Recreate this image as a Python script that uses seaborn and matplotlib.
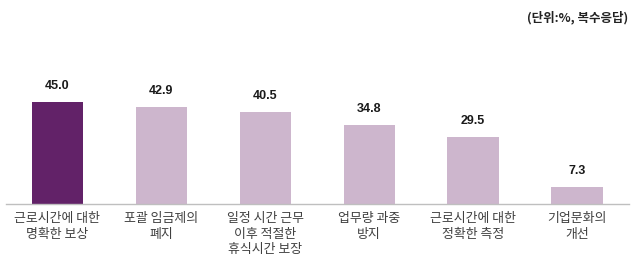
import matplotlib
matplotlib.use("Agg")
import matplotlib.pyplot as plt
import seaborn as sns
import pandas as pd

categories = ["근로시간에 대한\n명확한 보상", "포괄 임금제의\n폐지", "일정 시간 근무\n이후 적절한\n휴식시간 보장",
              "업무량 과중\n방지", "근로시간에 대한\n정확한 측정", "기업문화의\n개선"]
values = [45.0, 42.9, 40.5, 34.8, 29.5, 7.3]
value_labels = ["45.0", "42.9", "40.5", "34.8", "29.5", "7.3"]
subtitle = "(단위:%, 복수응답)"

dark = "#622268"
light = "#CDB6CD"
colors = [dark] + [light] * 5

sns.set_theme(style="white")
plt.rcParams['font.family'] = ['Noto Sans CJK KR', 'DejaVu Sans']

df = pd.DataFrame({"cat": categories, "val": values})

fig = plt.figure(figsize=(6.4, 2.69), dpi=100)
ax = fig.add_axes([5.5/640, 1-203.7/269, (629-5.5)/640, 113/269])
sns.barplot(data=df, x="cat", y="val", hue="cat", palette=colors, legend=False,
            width=0.494, ax=ax, saturation=1, linewidth=0)
ax.set_xlim(-0.5, 5.5)
ax.set_ylim(0, 50)
ax.set_xlabel("")
ax.set_ylabel("")
ax.set_yticks([])
for s in ["top", "right", "left"]:
    ax.spines[s].set_visible(False)
ax.spines["bottom"].set_color("#BFBFBF")
ax.spines["bottom"].set_linewidth(1.0)
ax.tick_params(axis="x", length=0, pad=6)
for lbl in ax.get_xticklabels():
    lbl.set_fontsize(9.3)
    lbl.set_color("#404040")
    lbl.set_linespacing(1.25)

for i, (v, t) in enumerate(zip(values, value_labels)):
    ax.annotate(t, xy=(i, v), xytext=(0, 7), textcoords="offset points",
                ha="center", va="bottom", fontsize=9, fontweight="bold",
                color="#1A1A1A", family=["Liberation Sans", "DejaVu Sans"])

fig.text(628/640, 1-18/269, subtitle, ha="right", va="center", fontsize=9,
         fontweight="bold", color="#222222", family=["Noto Sans CJK KR", "DejaVu Sans"])

fig.savefig("out.png", dpi=100)
